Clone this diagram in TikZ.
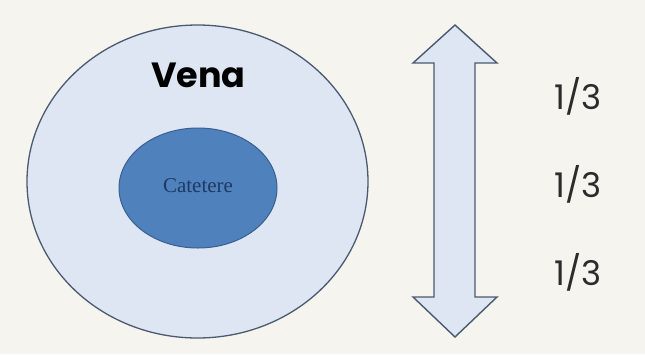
\documentclass[tikz,border=0pt]{standalone}
\usepackage{fontspec}
\setmainfont{Liberation Serif}
\newfontfamily\gothic{Poppins}
\definecolor{bgcol}{HTML}{F6F4EF}
\definecolor{venafill}{HTML}{DDE6F2}
\definecolor{venaline}{HTML}{4A5A70}
\definecolor{catfill}{HTML}{4F81BD}
\definecolor{catline}{HTML}{3A5F8F}
\definecolor{cattext}{HTML}{1F3864}
\definecolor{fracgray}{HTML}{2B2B2B}
\tikzset{
  vessel/.style={ellipse, draw=venaline, fill=venafill, line width=1.3pt, inner sep=0pt},
  cath/.style={ellipse, draw=catline, fill=catfill, line width=1pt, inner sep=0pt},
  fraclabel/.style={font=\gothic\fontsize{34}{34}\selectfont, text=fracgray, anchor=center, inner sep=0pt},
  arrowshape/.style={draw=venaline, fill=venafill, line width=1.4pt, line join=miter}
}
\usetikzlibrary{shapes.geometric}
\begin{document}
\begin{tikzpicture}[x=1pt,y=-1pt]
\fill[bgcol] (0,0) rectangle (645,354);
\useasboundingbox (0,0) rectangle (645,354);
\node[vessel, minimum width=341pt, minimum height=313pt] (vena) at (197.5,181.5) {};
\node[cath, minimum width=158pt, minimum height=120pt] (cat) at (198,188) {};
\node[font=\fontsize{21}{21}\selectfont, text=cattext, inner sep=0pt] (catlabel) at (198,186) {Catetere};
\node[font=\gothic\bfseries\fontsize{35}{35}\selectfont, text=black, inner sep=0pt, anchor=base] (venalabel) at (198.5,87) {Vena};
% double arrow
\coordinate (t) at (455,25);
\coordinate (b) at (455,337);
\draw[arrowshape] (t) -- (497,63) -- (475,63) -- (475,297) -- (497,297) -- (b) -- (413,297) -- (434,297) -- (434,63) -- (413,63) -- cycle;
\node[fraclabel] (f1) at (578,96) {1/3};
\node[fraclabel] (f2) at (578,184) {1/3};
\node[fraclabel] (f3) at (578,272) {1/3};
\end{tikzpicture}
\end{document}
